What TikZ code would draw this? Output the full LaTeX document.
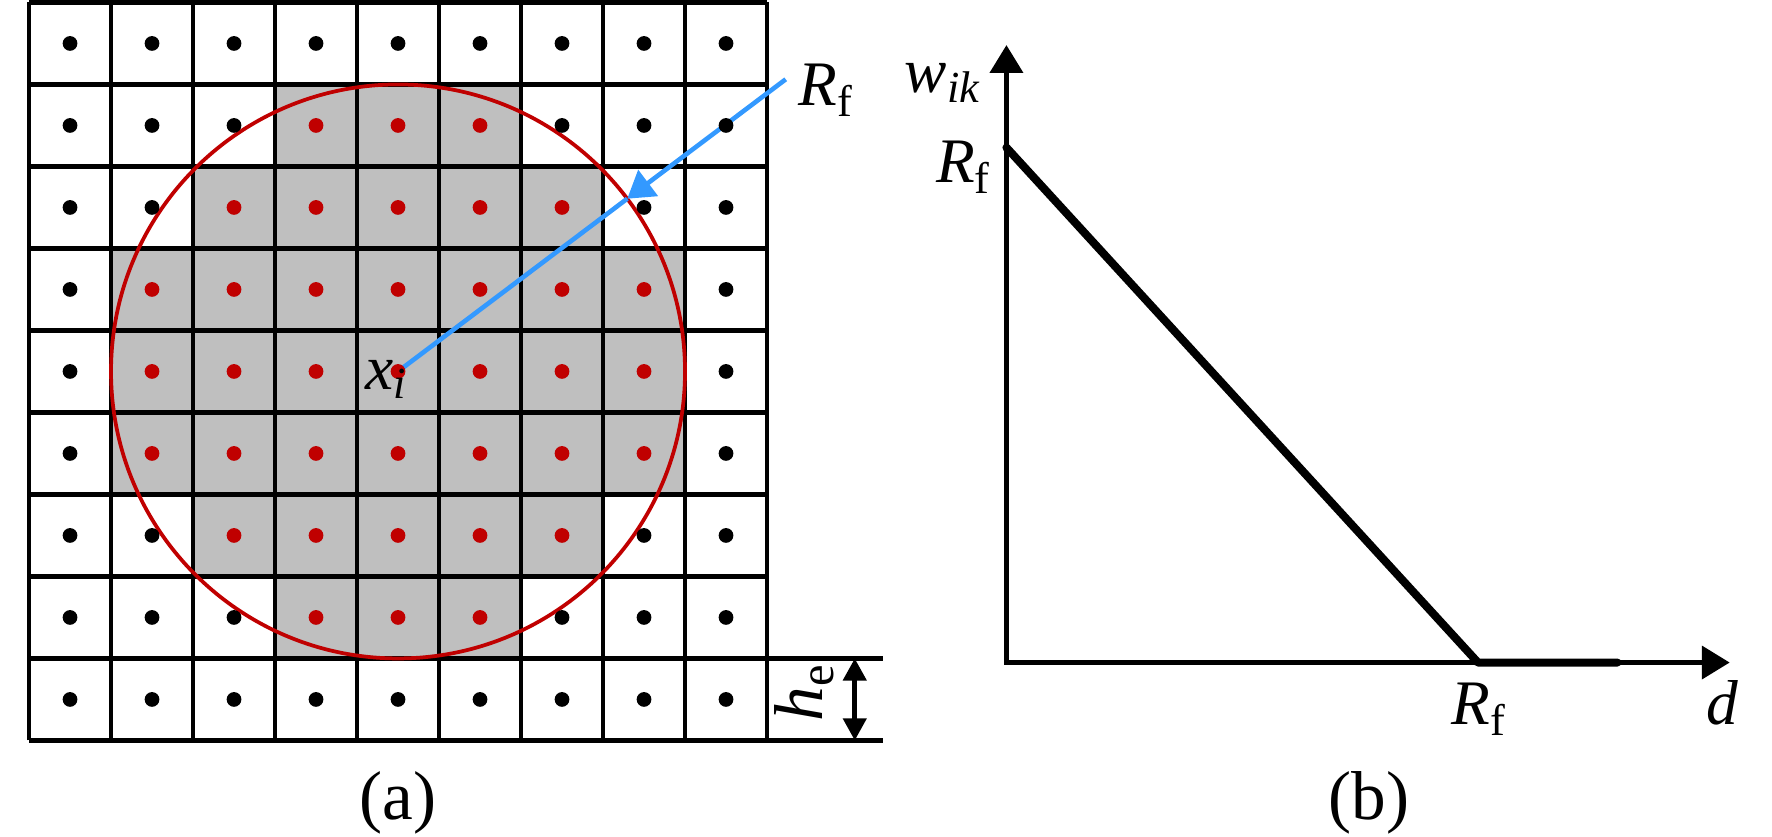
\documentclass[tikz,border=0pt]{standalone}
\usepackage{fontspec}
\setmainfont{Liberation Serif}
\usepackage{tikz}
\usetikzlibrary{positioning, arrows.meta, calc}
\definecolor{circred}{RGB}{192,0,0}
\definecolor{arrowblue}{RGB}{51,153,255}
\definecolor{cellgray}{RGB}{191,191,191}
\newcommand{\sym}[2]{\textit{#1}\textsubscript{#2}}

\begin{document}
\begin{tikzpicture}
	% Define styles
	\tikzset{
		gridline/.style={draw, line width=1.6pt},
		dot/.style={circle, fill=black, minimum size=0.18cm, inner sep=0pt},
		reddot/.style={dot, fill=circred},
		lbl/.style={inner sep=0pt, font=\fontsize{22}{26}\selectfont},
		caption/.style={inner sep=0pt, font=\fontsize{24}{28}\selectfont},
		rline/.style={draw=arrowblue, line width=1.6pt},
		axis/.style={draw, line width=1.6pt, {Triangle[length=0.34cm, width=0.4cm]}-{Triangle[length=0.34cm, width=0.4cm]}},
		curve/.style={draw, line width=2.8pt, line cap=round, line join=round}
	}
	\useasboundingbox (-0.354,-1.177) rectangle (21.256,9.03);
	
	% Filter region
	\coordinate (xi) at (4.5,4.5);
	\foreach \i in {0,...,8}
		\foreach \j in {0,...,8} {
			\pgfmathtruncatemacro{\inside}{((\i-4)*(\i-4)+(\j-4)*(\j-4) <= 12.25) ? 1 : 0}
			\ifnum\inside=1
				\fill[cellgray] (\i,\j) rectangle ++(1,1);
			\fi
		}
	\draw[gridline] (0,0) grid (9,9);
	\draw[circred, line width=1.3pt] (xi) circle (3.5);
	
	% Radius
	\coordinate (rim) at ($(xi)+(37:3.5)$);
	\coordinate (rftail) at ($(xi)+(37:5.92)$);
	\draw[rline] (xi) -- (rim);
	\draw[rline, -{Triangle[length=0.32cm, width=0.39cm]}] (rftail) -- (rim);
	
	% Element centres
	\foreach \i in {0,...,8}
		\foreach \j in {0,...,8} {
			\pgfmathtruncatemacro{\inside}{((\i-4)*(\i-4)+(\j-4)*(\j-4) <= 12.25) ? 1 : 0}
			\ifnum\inside=1
				\node[reddot] (p\i\j) at (\i+0.5,\j+0.5) {};
			\else
				\node[dot] (p\i\j) at (\i+0.5,\j+0.5) {};
			\fi
		}
	
	% Element size
	\coordinate (hbot) at (10.07,0);
	\coordinate (htop) at (10.07,1);
	\draw[gridline] (9,1) -- (10.41,1);
	\draw[gridline] (9,0) -- (10.41,0);
	\draw[line width=1.6pt, {Triangle[length=0.27cm, width=0.28cm]}-{Triangle[length=0.27cm, width=0.28cm]}] (hbot) -- (htop);
	\node[lbl, rotate=90, anchor=base, font=\fontsize{24}{28}\selectfont] (he) at (9.68,0.585) {\sym{h}{e}};
	
	% Labels (a)
	\node[lbl, anchor=base east] (xlbl) at ([shift={(0.12,-0.22)}]xi) {\sym{x}{\textit{i}}};
	\node[lbl, right=0.15cm of rftail, yshift=-0.13cm] (rftop) {\sym{R}{f}};
	\node[caption, anchor=base] (capa) at (4.5,-0.96) {(a)};
	
	% Weight function
	\coordinate (origin) at (11.92,0.95);
	\coordinate (ytip) at (11.92,8.48);
	\coordinate (xtip) at (20.74,0.95);
	\coordinate (wrf) at (11.92,7.23);
	\coordinate (drf) at (17.67,0.95);
	\coordinate (dend) at (19.37,0.95);
	\draw[axis] (ytip) -- (origin) -- (xtip);
	\draw[curve] (wrf) -- (drf) -- (dend);
	
	% Labels (b)
	\node[lbl, anchor=base east] (wlbl) at (11.62,7.90) {\sym{w}{\textit{ik}}};
	\node[lbl, anchor=base east] (rfy) at (11.74,6.80) {\sym{R}{f}};
	\node[lbl, anchor=base] (rfx) at (17.68,0.195) {\sym{R}{f}};
	\node[lbl, anchor=base] (dlbl) at (20.65,0.195) {\textit{d}};
	\node[caption, anchor=base] (capb) at (16.34,-0.96) {(b)};
	
\end{tikzpicture}
\end{document}
